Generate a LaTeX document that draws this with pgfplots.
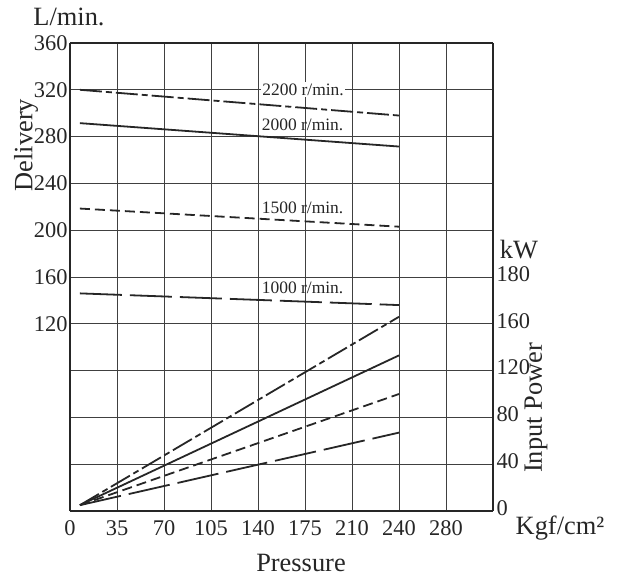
\documentclass[border=0pt]{standalone}
\usepackage{pgfplots}
\pgfplotsset{compat=1.18}
\usepackage{fontspec}
\setmainfont{Liberation Serif}
\tikzset{clab/.style={anchor=west, inner sep=1bp, font=\fontsize{17.5}{17.5}\selectfont, text=black!85}}
\begin{document}
\begin{tikzpicture}
\useasboundingbox (-70bp,-66bp) rectangle (552bp,511bp);
\pgfplotsset{
  common/.style={
    scale only axis, width=423bp, height=468bp,
    at={(0,0)}, anchor=south west,
    xmin=0, xmax=315,
    major tick length=0pt,
    /pgf/number format/assume math mode=true,
    ticklabel style={font=\fontsize{22.5}{22.5}\selectfont, text=black!85},
  },
  r2200/.style={black!85, line width=1.8bp, dash pattern=on 22bp off 4bp on 6bp off 4bp},
  r2000/.style={black!85, line width=1.8bp},
  r1500/.style={black!85, line width=1.8bp, dash pattern=on 10bp off 5bp},
  r1000/.style={black!85, line width=1.8bp, dash pattern=on 42bp off 8bp},
}
% right axis (input power, kW) with grid
\begin{axis}[common,
  ymin=0, ymax=400,
  axis y line*=right, axis x line*=bottom,
  ytick={0,40,...,400},
  yticklabels={0,40,80,120,160,180,,,,,},
  yticklabel style={yshift=3bp},
  xtick={0,35,...,280},
  xticklabels={0,35,70,105,140,175,210,240,280},
  xticklabel style={yshift=-6bp},
  grid=major, grid style={black!75, line width=0.8bp},
  axis line style={black!85, line width=2bp},
]
\addplot[r2200] coordinates {(7.4,5) (245,166)};
\addplot[r2000] coordinates {(7.4,5) (245,133)};
\addplot[r1500] coordinates {(7.4,5) (245,100)};
\addplot[r1000] coordinates {(7.4,5) (245,67)};
\end{axis}
% left axis (delivery, L/min)
\begin{axis}[common,
  ymin=-40, ymax=360,
  axis y line*=left, axis x line*=top,
  ytick={120,160,...,360},
  xtick=\empty,
  yticklabel style={xshift=1bp},
  axis line style={black!85, line width=1.2bp},
]
\draw[black!85, line width=2bp] (axis cs:0,-40) -- (axis cs:0,360);
\addplot[r2200] coordinates {(7.4,320) (245,298)};
\addplot[r2000] coordinates {(7.4,291.5) (245,271.5)};
\addplot[r1500] coordinates {(7.4,218.5) (245,203)};
\addplot[r1000] coordinates {(7.4,146) (245,136)};
\node[clab, fill=white, inner sep=1.5bp] at (axis cs:142,320) {2200 r/min.};
\node[clab] at (axis cs:142,290) {2000 r/min.};
\node[clab] at (axis cs:142,219.5) {1500 r/min.};
\node[clab] at (axis cs:142,150.5) {1000 r/min.};
\end{axis}
\begin{scope}[every node/.style={font=\fontsize{26.5}{26.5}\selectfont, text=black!85, inner sep=0pt}]
\node at (-1bp,494bp) {L/min.};
\node[rotate=90] at (-44bp,366bp) {Delivery};
\node at (449bp,261bp) {kW};
\node[rotate=90] at (466bp,103bp) {Input Power};
\node at (490bp,-17bp) {Kgf/cm²};
\node at (231bp,-52bp) {Pressure};
\end{scope}
\end{tikzpicture}
\end{document}
